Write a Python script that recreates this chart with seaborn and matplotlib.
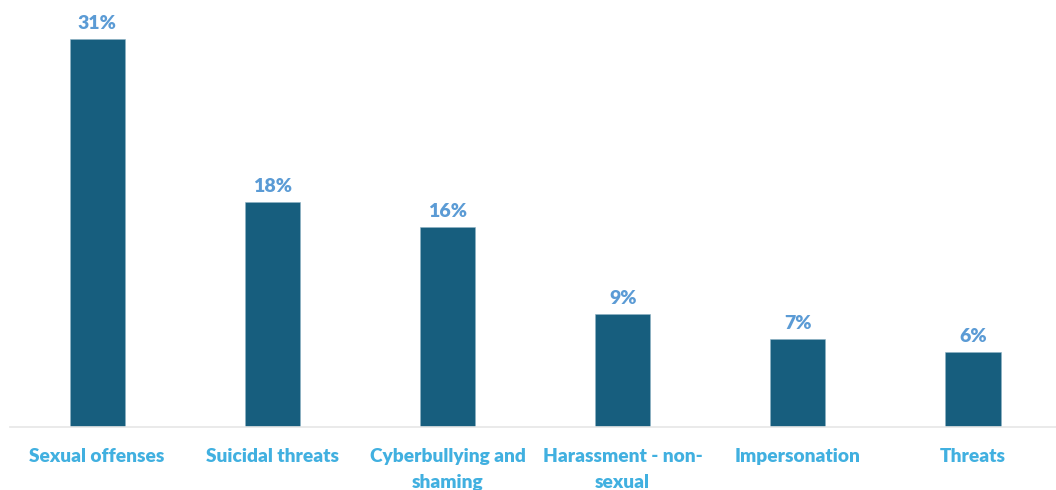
import matplotlib
matplotlib.use("Agg")
import matplotlib.pyplot as plt
import seaborn as sns
import pandas as pd

categories = ["Sexual offenses", "Suicidal threats", "Cyberbullying and\nshaming",
              "Harassment - non-\nsexual", "Impersonation", "Threats"]
values = [31, 18, 16, 9, 7, 6]

bar_color = "#175E7E"
value_color = "#5B9BD5"
tick_color = "#41B0E0"

sns.set_theme(style="white")
plt.rcParams["font.family"] = ["Lato", "DejaVu Sans"]

df = pd.DataFrame({"category": categories, "value": values})

fig = plt.figure(figsize=(10.56, 4.9), dpi=100)
ax = fig.add_axes([9.6 / 1056, 63 / 490, 1051 / 1056, 422 / 490])

sns.barplot(data=df, x="category", y="value", color=bar_color, width=0.315,
            saturation=1, ax=ax, edgecolor="#8fb3c4", linewidth=0.4)

ax.set_xlim(-0.5, 5.5)
ax.set_ylim(0, 33.7)
ax.set_xlabel("")
ax.set_ylabel("")
ax.set_yticks([])
for side in ["left", "right", "top"]:
    ax.spines[side].set_visible(False)
ax.spines["bottom"].set_color("#e6e6e6")
ax.spines["bottom"].set_linewidth(1.2)

ax.tick_params(axis="x", length=0, pad=15)
for lbl in ax.get_xticklabels():
    lbl.set_color(tick_color)
    lbl.set_fontsize(13.8)
    lbl.set_fontweight("heavy")
    lbl.set_linespacing(1.65)
    lbl.set_verticalalignment("top")

for i, v in enumerate(values):
    ax.annotate(f"{v}%", xy=(i, v), xytext=(0, 5), textcoords="offset points",
                ha="center", va="bottom", color=value_color,
                fontsize=14, fontweight="heavy")

fig.savefig("out.png", dpi=100)
